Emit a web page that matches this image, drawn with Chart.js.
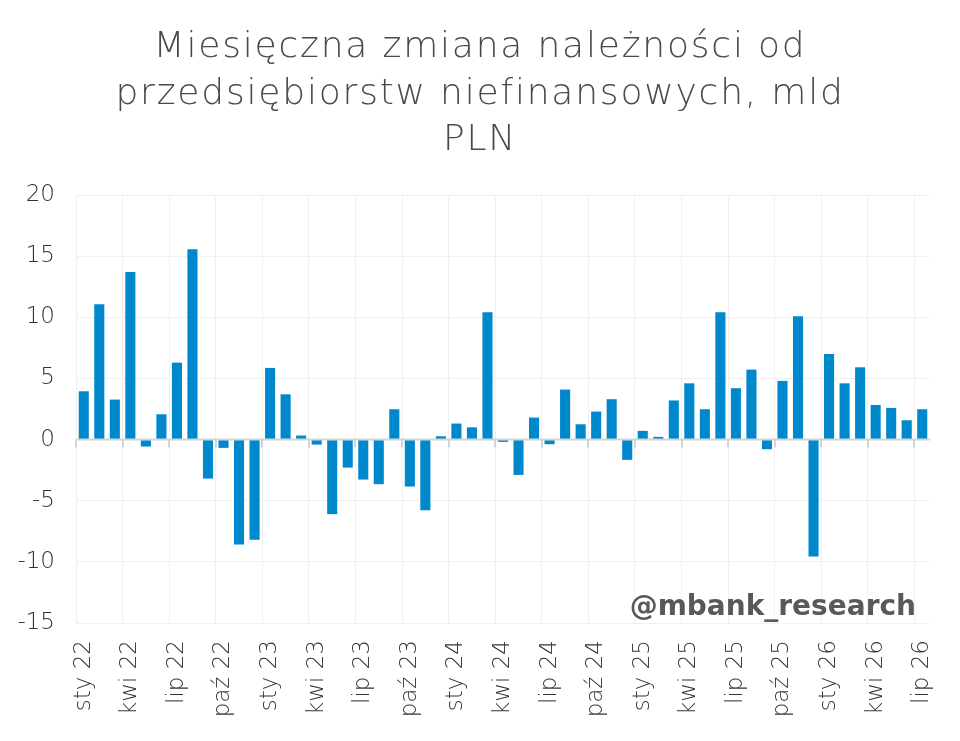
<!DOCTYPE html>
<html>
<head>
<meta charset="utf-8">
<script src="https://cdn.jsdelivr.net/npm/chart.js@4"></script>
<style>
  html, body { margin:0; padding:0; background:#fff; }
  #wrap { width:960px; height:741px; }
</style>
</head>
<body>
<div id="wrap"><canvas id="chart" width="960" height="741"></canvas></div>
<script>
// Dane: miesiące sty 22 - lip 26
const months = ["sty","lut","mar","kwi","maj","cze","lip","sie","wrz","paź","lis","gru"];
const years = ["22","23","24","25","26"];
const labels = [];
years.forEach(y => months.forEach(m => labels.push(m + " " + y)));
labels.length = 55;

const values = [
  3.95, 11.06, 3.27, 13.7, -0.57, 2.07, 6.29, 15.56, -3.19, -0.68, -8.58, -8.2,
  5.86, 3.7, 0.33, -0.41, -6.1, -2.29, -3.27, -3.65, 2.48, -3.84, -5.78, 0.27,
  1.31, 1.0, 10.41, -0.19, -2.89, 1.8, -0.38, 4.09, 1.25, 2.29, 3.3, -1.66,
  0.71, 0.22, 3.2, 4.6, 2.48, 10.41, 4.2, 5.72, -0.79, 4.8, 10.08, -9.56,
  7.0, 4.6, 5.91, 2.83, 2.59, 1.58, 2.48
];

const yTicks = { min:-15, max:20, step:5 };
const titleLines = ["Miesięczna zmiana należności od", "przedsiębiorstw niefinansowych, mld", "PLN"];
const watermark = "@mbank_research";

const FONT = "'DejaVu Sans', sans-serif";

// tytuł (z rozstrzeleniem liter), kreski na osi zero, znak wodny
const extras = {
  id: "extras",
  afterDraw(chart) {
    const { ctx, scales:{ x, y }, chartArea } = chart;
    const y0 = y.getPixelForValue(0);
    ctx.save();
    ctx.strokeStyle = "#d4d4d4";
    ctx.lineWidth = 2;
    ctx.beginPath();
    ctx.moveTo(chartArea.left, y0);
    ctx.lineTo(chartArea.right, y0);
    ctx.stroke();
    const half = (x.getPixelForValue(1) - x.getPixelForValue(0)) / 2;
    for (let i = 0; i < labels.length; i += 3) {
      const px = Math.round(x.getPixelForValue(i) - half);
      ctx.beginPath();
      ctx.moveTo(px, y0);
      ctx.lineTo(px, y0 + 8);
      ctx.stroke();
    }

    ctx.font = "bold 28px 'DejaVu Sans', sans-serif";
    ctx.fillStyle = "#595959";
    ctx.textAlign = "right";
    ctx.textBaseline = "alphabetic";
    ctx.fillText(watermark, chartArea.right - 14, chartArea.bottom - 8);

    ctx.font = "200 36px " + FONT;
    ctx.fillStyle = "#4a4a4a";
    ctx.textAlign = "center";
    ctx.letterSpacing = "1.8px";
    titleLines.forEach((t, i) => ctx.fillText(t, chart.width / 2, 57 + i * 46.7));
    ctx.restore();
  }
};

new Chart(document.getElementById("chart"), {
  type: "bar",
  data: {
    labels: labels,
    datasets: [{
      data: values,
      backgroundColor: "#0088cc",
      borderWidth: 0,
      barPercentage: 0.65,
      categoryPercentage: 1.0
    }]
  },
  options: {
    responsive: false,
    animation: false,
    layout: { padding: { left: 0, right: 30, top: 195, bottom: 0 } },
    plugins: {
      legend: { display:false },
      tooltip: { enabled:false },
      title: { display:false }
    },
    scales: {
      x: {
        afterFit: s => { s.height = 118; s.paddingLeft = 0; s.paddingRight = 0; },
        grid: {
          offset: true,
          drawTicks: false,
          color: c => (c.index % 3 === 0 ? "#f0f0f0" : "rgba(0,0,0,0)")
        },
        border: { display:false },
        ticks: {
          autoSkip: false,
          maxRotation: 90,
          minRotation: 90,
          padding: 17,
          color: "#333",
          font: { family: FONT, size: 23, weight: 200 },
          callback: (v, i) => (i % 3 === 0 ? labels[i] : "")
        }
      },
      y: {
        min: yTicks.min,
        max: yTicks.max,
        afterFit: s => { s.width = 76; },
        grid: { color: "#f0f0f0", drawTicks:false },
        border: { display:false },
        ticks: {
          stepSize: yTicks.step,
          padding: 21,
          color: "#333",
          font: { family: FONT, size: 23, weight: 200 }
        }
      }
    }
  },
  plugins: [extras]
});
</script>
</body>
</html>
